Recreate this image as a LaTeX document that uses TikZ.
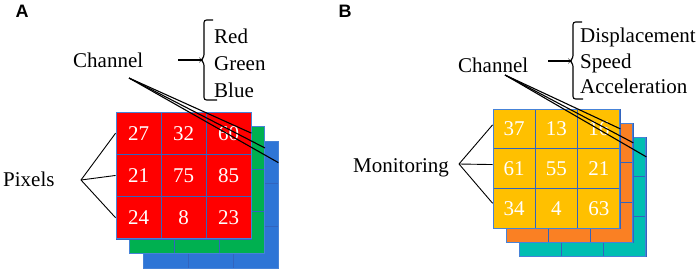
\documentclass[tikz,border=0pt]{standalone}
\usepackage{fontspec}
\setmainfont{Liberation Serif}
\setsansfont{Liberation Sans}
\definecolor{cRed}{RGB}{255,0,0}
\definecolor{cGreen}{RGB}{0,176,80}
\definecolor{cBlue}{RGB}{46,117,214}
\definecolor{cYellow}{RGB}{255,192,0}
\definecolor{cOrange}{RGB}{250,128,35}
\definecolor{cTeal}{RGB}{0,190,178}
\definecolor{gridc}{RGB}{50,100,190}
\definecolor{outerc}{RGB}{70,130,215}
\newcommand{\cellfnt}{\fontsize{21}{24}\selectfont}
\newcommand{\lblfnt}{\fontsize{21}{24}\selectfont}
% #1 name, #2 x0, #3 y0, #4 cell w, #5 cell h, #6 fill, #7 numbers
\newcommand{\gridlayer}[7]{%
  \foreach \n [count=\i from 0] in {#7}{%
    \pgfmathtruncatemacro\rr{int(\i/3)}%
    \pgfmathtruncatemacro\cc{mod(\i,3)}%
    \node[cell, fill=#6, minimum width=#4pt, minimum height=#5pt] (#1-\rr\cc)
      at ({#2+(\cc+0.5)*#4},{#3+(\rr+0.5)*#5}) {\n};
  }%
  \draw[outerc, line width=1pt] (#2,#3) rectangle ({#2+3*#4},{#3+3*#5});
}
\begin{document}
\begin{tikzpicture}[x=1pt,y=-1pt,
  cell/.style={draw=gridc, line width=0.8pt, inner sep=0pt, text=white, font=\cellfnt},
  lbl/.style={font=\lblfnt, inner sep=0pt},
  conn/.style={draw=black, line width=1.1pt},
  bracestyle/.style={draw=black, line width=1.1pt, rounded corners=2.5pt},
  panel/.style={font=\sffamily\bfseries\fontsize{18}{20}\selectfont, inner sep=0pt}]
\useasboundingbox (0,0) rectangle (699,271);

% ---------------- Panel A ----------------
\node[panel] (labA) at (22,11) {A};
\gridlayer{A1}{143}{141.5}{45}{42.3}{cBlue}{{},{},{},{},{},{},{},{},{}}
\gridlayer{A2}{129.5}{126.8}{45}{42.3}{cGreen}{{},{},{},{},{},{},{},{},{}}
\gridlayer{A3}{116}{112}{45}{42.3}{cRed}{27,32,60,21,75,85,24,8,23}

\node[lbl, anchor=base west] (pixA) at (3,186) {Pixels};
\coordinate (fanA) at (81,180);
\draw[conn, line width=0.9pt] (fanA) -- (A3-00.west);
\draw[conn, line width=0.9pt] (fanA) -- (A3-10.west);
\draw[conn, line width=0.9pt] (fanA) -- (A3-20.west);

\node[lbl, anchor=base west] (chanA) at (73,67) {Channel};
\coordinate (chA) at (129,78);
\draw[conn] (chA) -- (A3-02.east);
\draw[conn] (chA) -- (A2-02.east);
\draw[conn] (chA) -- (A1-02.east);

\coordinate (brA) at (201,60);
\draw[conn] (178,60) -- (brA);
\draw[bracestyle] (213,20) -- (204,20) -- (204,57) -- (brA) -- (204,63) -- (204,100) -- (217,100);
\node[lbl, anchor=base west] (redA) at (214,43) {Red};
\node[lbl, anchor=base west] (greenA) at (214,70) {Green};
\node[lbl, anchor=base west] (blueA) at (214,97) {Blue};

% ---------------- Panel B ----------------
\node[panel] (labB) at (345,11) {B};
\gridlayer{B1}{519}{137}{42.3}{39.7}{cTeal}{{},{},{},{},{},{},{},{},{}}
\gridlayer{B2}{506}{123}{42.3}{39.7}{cOrange}{{},{},{},{},{},{},{},{},{}}
\gridlayer{B3}{493}{109}{42.3}{39.7}{cYellow}{37,13,16,61,55,21,34,4,63}

\node[lbl, anchor=base west] (monB) at (353,172) {Monitoring};
\coordinate (fanB) at (459,164);
\draw[conn, line width=0.9pt] (fanB) -- ([yshift=4pt]B3-00.west);
\draw[conn, line width=0.9pt] (fanB) -- ([yshift=4pt]B3-10.west);
\draw[conn, line width=0.9pt] (fanB) -- ([yshift=5pt]B3-20.west);

\node[lbl, anchor=base west] (chanB) at (458,72) {Channel};
\coordinate (chB) at (505,75);
\draw[conn] (chB) -- (B3-02.east);
\draw[conn] (chB) -- (B2-02.east);
\draw[conn] (chB) -- (B1-02.east);

\coordinate (brB) at (570,61);
\draw[conn] (548,61) -- (brB);
\draw[bracestyle] (582,22) -- (573,22) -- (573,58) -- (brB) -- (573,64) -- (573,99) -- (583,99);
\node[lbl, anchor=base west] (dispB) at (580,42) {Displacement};
\node[lbl, anchor=base west] (speedB) at (580,68) {Speed};
\node[lbl, anchor=base west] (accB) at (580,93) {Acceleration};
\end{tikzpicture}
\end{document}
